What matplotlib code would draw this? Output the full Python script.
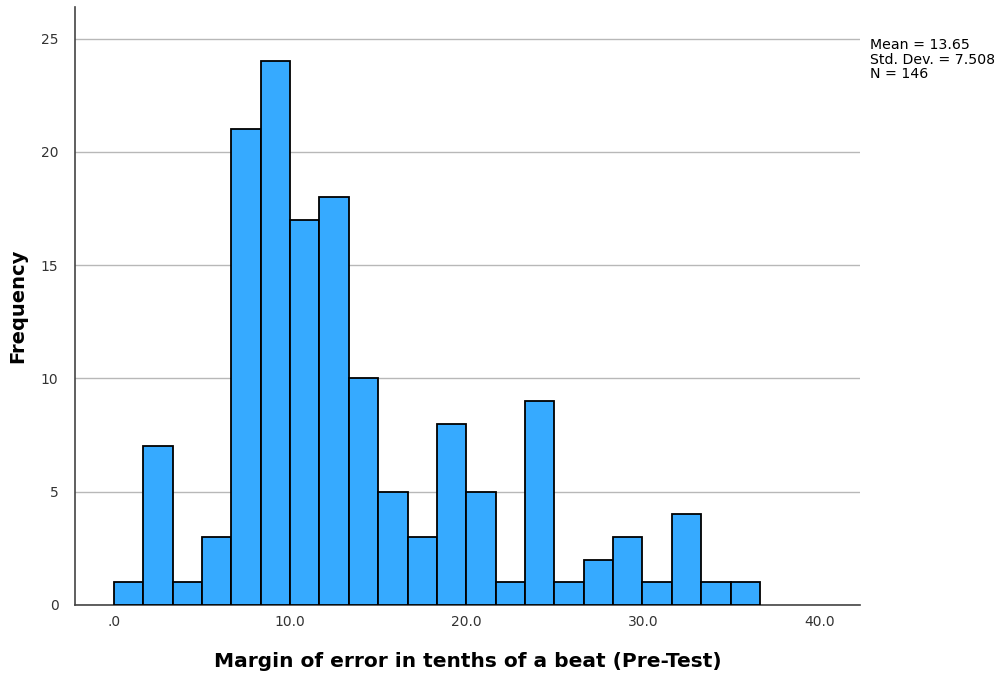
import numpy as np
import matplotlib
matplotlib.use('Agg')
import matplotlib.pyplot as plt

# histogram counts (bins start at 0, width ~1.665)
counts = [1, 7, 1, 3, 21, 24, 17, 18, 10, 5, 3, 8, 5, 1, 9, 1, 2, 3, 1, 4, 1, 1]
bin_start = 0.0
bin_width = 1.665
x_ticks = [0, 10, 20, 30, 40]
x_tick_labels = ['.0', '10.0', '20.0', '30.0', '40.0']
y_ticks = [0, 5, 10, 15, 20, 25]
stats_text = 'Mean = 13.65\nStd. Dev. = 7.508\nN = 146'

if __name__ == '__main__':
    fig = plt.figure(figsize=(10.01, 6.77), dpi=100)
    ax = fig.add_axes([0.075, 0.1064, 0.784, 0.8833])

    lefts = bin_start + bin_width * np.arange(len(counts))
    ax.bar(lefts, counts, width=bin_width, align='edge', color='#36AAFF',
           edgecolor='black', linewidth=1.3, zorder=3)

    ax.set_xlim(-2.2, 42.3)
    ax.set_ylim(0, 26.4)
    ax.set_xticks(x_ticks)
    ax.set_xticklabels(x_tick_labels)
    ax.set_yticks(y_ticks)
    ax.yaxis.grid(True, color='#b8b8b8', linewidth=1, zorder=0)
    ax.tick_params(axis='both', length=0, labelsize=10, colors='#333333')
    ax.tick_params(axis='x', pad=7)
    ax.tick_params(axis='y', pad=12)

    for s in ['top', 'right']:
        ax.spines[s].set_visible(False)
    for s in ['left', 'bottom']:
        ax.spines[s].set_color('#444444')
        ax.spines[s].set_linewidth(1.2)

    ax.set_xlabel('Margin of error in tenths of a beat (Pre-Test)', fontsize=14.5,
                  fontweight='bold', labelpad=17)
    ax.set_ylabel('Frequency', fontsize=14, fontweight='bold', labelpad=10)

    fig.text(0.869, 0.944, stats_text, fontsize=10.2, va='top', ha='left',
             linespacing=1.06)

    plt.savefig('out.png', dpi=100)
